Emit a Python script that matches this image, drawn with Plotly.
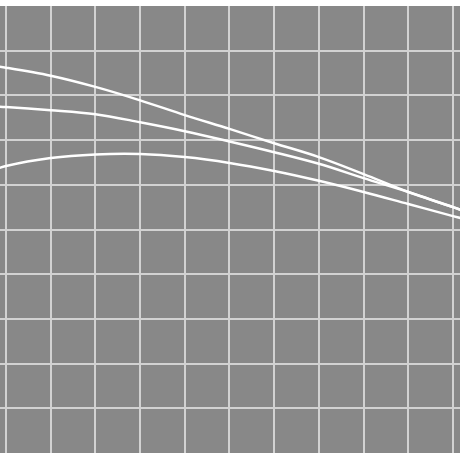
import plotly.graph_objects as go

# x positions (grid units) and the three curves
x = [-0.2, 0, 1, 2, 3, 4, 5, 6, 7, 8, 9, 10, 10.2]
curve_a = [8.65, 8.62, 8.44, 8.19, 7.89, 7.56, 7.25, 6.93, 6.62, 6.24, 5.84, 5.50, 5.43]
curve_b = [7.75, 7.74, 7.67, 7.58, 7.40, 7.20, 6.97, 6.73, 6.47, 6.15, 5.84, 5.50, 5.43]
curve_c = [6.36, 6.42, 6.60, 6.68, 6.69, 6.62, 6.49, 6.31, 6.09, 5.84, 5.57, 5.30, 5.25]

fig = go.Figure()

for ys in (curve_a, curve_b, curve_c):
    fig.add_trace(go.Scatter(
        x=x,
        y=ys,
        mode='lines',
        line=dict(color='white', width=2.5, shape='spline'),
        showlegend=False,
        hoverinfo='skip'
    ))

fig.update_layout(
    width=460,
    height=460,
    margin=dict(l=0, r=0, t=6, b=7),
    paper_bgcolor='white',
    plot_bgcolor='#888888',
    showlegend=False
)

fig.update_xaxes(
    range=[-0.134, 10.157],
    dtick=1,
    tick0=0,
    showgrid=True,
    gridcolor='#d2d2d2',
    gridwidth=2,
    zeroline=False,
    showticklabels=False,
    ticks=''
)
fig.update_yaxes(
    range=[0, 10],
    dtick=1,
    tick0=0,
    showgrid=True,
    gridcolor='#d2d2d2',
    gridwidth=2,
    zeroline=False,
    showticklabels=False,
    ticks=''
)

# the page's default body margin would shift the chart by 8px
fig.write_html('out.html', config={'displayModeBar': False},
               post_script="document.body.style.margin = '0';")
